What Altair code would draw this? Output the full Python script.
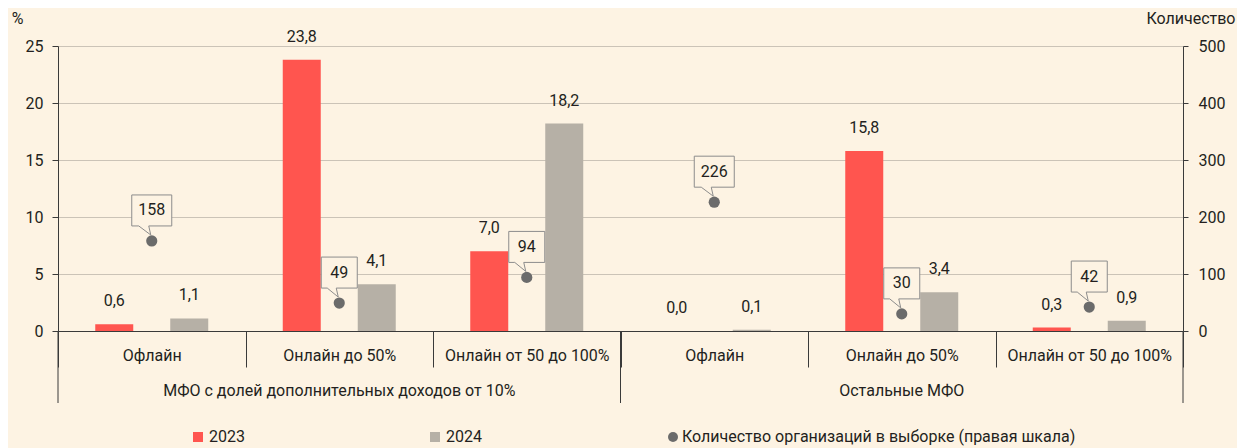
import altair as alt
import pandas as pd

# ---------------- data ----------------
groups = ["МФО с долей дополнительных доходов от 10%", "Остальные МФО"]
channels = ["Офлайн", "Онлайн до 50%", "Онлайн от 50 до 100%"]
years = ["2023", "2024"]
share_2023 = [0.6, 23.8, 7.0, 0.0, 15.8, 0.3]
share_2024 = [1.1, 4.1, 18.2, 0.1, 3.4, 0.9]
org_count = [158, 49, 94, 226, 30, 42]
count_series = "Количество организаций в выборке (правая шкала)"
left_ticks = [0, 5, 10, 15, 20, 25]
right_ticks = [0, 100, 200, 300, 400, 500]

# ---------------- styles ----------------
RED = "#FF554F"
GRAY = "#B6B0A6"
BG = "#FDF3E3"
DOT = "#6B6B6B"
BOX = "#8C8C8C"
GRID = "#CBC3B7"
AXIS = "#3A3A3A"
TEXT = "#231F20"
FONT = "Roboto"
FS = 16
W, H = 1125, 285

keys = [f"{g + 1}|{c}" for g in range(len(groups)) for c in channels]

bars = pd.DataFrame(
    [{"key": k, "year": years[0], "value": v} for k, v in zip(keys, share_2023)]
    + [{"key": k, "year": years[1], "value": v} for k, v in zip(keys, share_2024)]
)
counts = pd.DataFrame(
    {"key": keys, "count": org_count, "series": [count_series] * len(keys),
     "digits": [str(len(str(c))) for c in org_count]}
)
group_df = pd.DataFrame(
    {"key": [keys[i * 3 + 1] for i in range(len(groups))], "group": groups}
)
group_start = pd.DataFrame({"key": [keys[i * 3] for i in range(len(groups))]})
group_end = pd.DataFrame({"key": [keys[-1]]})

xscale = alt.Scale(domain=keys, paddingInner=0, paddingOuter=0)
xaxis = alt.Axis(
    title=None, labelExpr="split(datum.value, '|')[1]", tickBand="extent",
    tickSize=36, tickColor=AXIS, domainColor=AXIS, labelPadding=-12,
    labelBaseline="middle", labelAngle=0, labelFontSize=FS, labelColor=TEXT,
    grid=False, labelLimit=300, domainWidth=1, tickWidth=1,
)


def X(**kw):
    return alt.X("key:N", sort=keys, scale=xscale, axis=xaxis, **kw)


xoff = alt.XOffset("year:N", sort=years,
                   scale=alt.Scale(domain=years, paddingInner=0.4933, paddingOuter=0.4967))

left_y = alt.Y(
    "value:Q", scale=alt.Scale(domain=[0, 25], nice=False),
    axis=alt.Axis(
        values=left_ticks, title="%", titleAngle=0, titleX=-41, titleY=-28,
        titleAlign="center", titleBaseline="middle", titleFontSize=FS,
        titleFontWeight="normal", titleColor=TEXT, grid=True, gridColor=GRID,
        tickSize=6, labelPadding=9, domainColor=AXIS, tickColor=AXIS,
        labelFontSize=FS, labelColor=TEXT, labelFlush=False,
    ),
)

bar_layer = alt.Chart(bars).mark_bar().encode(
    x=X(), xOffset=xoff, y=left_y,
    color=alt.Color(
        "year:N", sort=years, scale=alt.Scale(domain=years, range=[RED, GRAY]),
        legend=alt.Legend(
            orient="none", legendX=132, legendY=383, direction="horizontal",
            title=None, symbolType="square", symbolSize=100, labelFontSize=FS,
            labelColor=TEXT, columnPadding=182, symbolStrokeWidth=0,
            labelOffset=3, padding=0,
        ),
    ),
)

bar_text = alt.Chart(bars).transform_calculate(
    label="replace(format(datum.value, '.1f'), '.', ',')"
).mark_text(dy=-23, fontSize=FS, color=TEXT, baseline="middle").encode(
    x=X(), xOffset=xoff, y=alt.Y("value:Q"), text="label:N"
)

group_text = alt.Chart(group_df).mark_text(fontSize=FS, color=TEXT, baseline="middle").encode(
    x=X(), y=alt.value(H + 60), text="group:N"
)
group_rule_start = alt.Chart(group_start).mark_rule(color=AXIS, strokeWidth=1).encode(
    x=X(bandPosition=0), y=alt.value(H), y2=alt.value(H + 72)
)
group_rule_end = alt.Chart(group_end).mark_rule(color=AXIS, strokeWidth=1).encode(
    x=X(bandPosition=1), y=alt.value(H), y2=alt.value(H + 72)
)

left = alt.layer(bar_layer, bar_text, group_text, group_rule_start, group_rule_end)

right_y = alt.Y(
    "count:Q", scale=alt.Scale(domain=[0, 500], nice=False),
    axis=alt.Axis(
        orient="right", values=right_ticks, title="Количество", titleAngle=0,
        titleX=52, titleY=-28, titleAlign="right", titleBaseline="middle",
        titleFontSize=FS, titleFontWeight="normal", titleColor=TEXT, grid=False,
        tickSize=5, labelPadding=10, domainColor=AXIS, tickColor=AXIS,
        labelFontSize=FS, labelColor=TEXT, labelFlush=False,
    ),
)

path2 = "M-18,-46 L18,-46 L18,-15 L-3,-15 L-1,-6 L-12,-15 L-18,-15 Z"
path3 = "M-20,-46 L20,-46 L20,-15 L-3,-15 L-1,-6 L-13,-15 L-20,-15 Z"

boxes = alt.Chart(counts).mark_point(
    size=4, filled=True, fill=BG, stroke=BOX, strokeWidth=1, opacity=1
).encode(
    x=X(), y=right_y,
    shape=alt.Shape("digits:N", scale=alt.Scale(domain=["2", "3"], range=[path2, path3]), legend=None),
)
dots = alt.Chart(counts).mark_circle(size=125, opacity=1).encode(
    x=X(), y=alt.Y("count:Q"),
    fill=alt.Fill(
        "series:N", scale=alt.Scale(domain=[count_series], range=[DOT]),
        legend=alt.Legend(
            orient="none", legendX=607, legendY=383, title=None, symbolType="circle",
            symbolSize=100, labelFontSize=FS, labelColor=TEXT, labelLimit=700,
            padding=0, labelOffset=1, symbolStrokeWidth=0,
        ),
    ),
)
count_text = alt.Chart(counts).mark_text(
    yOffset=-30.5, fontSize=FS, color=TEXT, baseline="middle"
).encode(x=X(), y=alt.Y("count:Q"), text="count:Q")

right = alt.layer(boxes, dots, count_text)

chart = (
    alt.layer(left, right)
    .resolve_scale(y="independent")
    .properties(
        width=W, height=H,
        autosize=alt.AutoSizeParams(type="none"),
        padding={"left": 50, "top": 38, "right": 54, "bottom": 117},
        background=BG,
    )
    .configure(font=FONT)
    .configure_view(stroke=None)
)

chart.save("out.html", embed_options={"renderer": "svg", "actions": False})
